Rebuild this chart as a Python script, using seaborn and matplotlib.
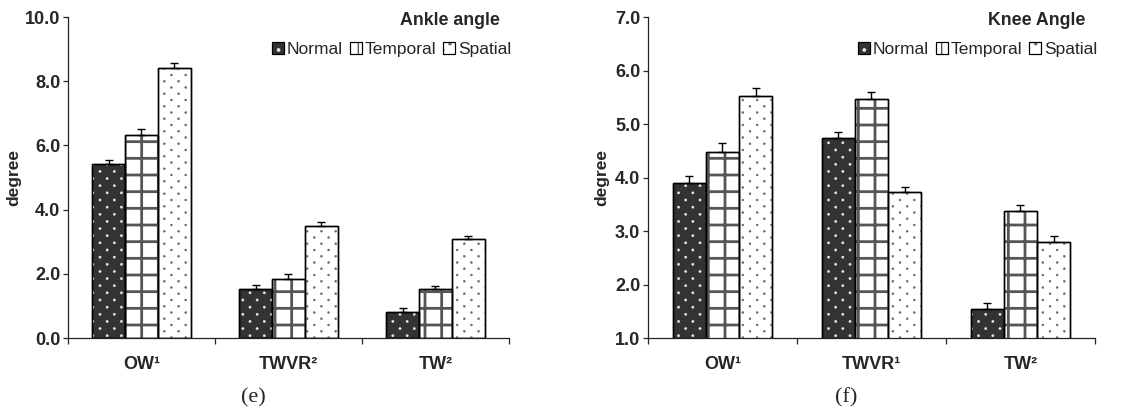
import matplotlib
matplotlib.use("Agg")
import matplotlib.pyplot as plt
import matplotlib.hatch as mhatch
from matplotlib.path import Path
from matplotlib.patches import Rectangle, Patch
from matplotlib.legend_handler import HandlerTuple
import numpy as np
import pandas as pd
import seaborn as sns

# ---- data -------------------------------------------------------------
conditions = ["Normal", "Temporal", "Spatial"]

ankle_categories = ["OW¹", "TWVR²", "TW²"]
ankle_normal = [5.41, 1.54, 0.81]
ankle_temporal = [6.33, 1.85, 1.52]
ankle_spatial = [8.42, 3.48, 3.07]
ankle_normal_err = [0.14, 0.12, 0.11]
ankle_temporal_err = [0.18, 0.14, 0.11]
ankle_spatial_err = [0.16, 0.12, 0.11]

knee_categories = ["OW¹", "TWVR¹", "TW²"]
knee_normal = [3.89, 4.73, 1.55]
knee_temporal = [4.47, 5.46, 3.37]
knee_spatial = [5.52, 3.72, 2.80]
knee_normal_err = [0.14, 0.13, 0.11]
knee_temporal_err = [0.18, 0.13, 0.12]
knee_spatial_err = [0.16, 0.10, 0.11]

ankle_yticks = [0.0, 2.0, 4.0, 6.0, 8.0, 10.0]
knee_yticks = [1.0, 2.0, 3.0, 4.0, 5.0, 6.0, 7.0]


# ---- dotted fill textures ---------------------------------------------
class DotLattice(mhatch.HatchPatternBase):
    """Staggered dot lattice: '.' is a sparse screen, '..' a finer one."""

    layouts = {1: (14, 7, 0.0115), 2: (16, 7, 0.0100)}

    def __init__(self, hatch, density):
        n = hatch.count(".")
        self.centers = []
        if n in self.layouts:
            rows, cols, self.radius = self.layouts[n]
            for k in range(rows + 1):
                y = k / rows
                if k % 2 == 0:
                    xs = [j / cols for j in range(cols + 1)]
                else:
                    xs = [(j + 0.5) / cols for j in range(cols)]
                self.centers.extend((x, y) for x in xs)
        circle = Path.unit_circle()
        self.shape_vertices = circle.vertices
        self.shape_codes = circle.codes
        self.num_vertices = len(self.centers) * len(self.shape_vertices)

    def set_vertices_and_codes(self, vertices, codes):
        m = len(self.shape_vertices)
        for i, (x, y) in enumerate(self.centers):
            vertices[i * m:(i + 1) * m] = self.shape_vertices * self.radius + [x, y]
            codes[i * m:(i + 1) * m] = self.shape_codes


mhatch._hatch_types = [DotLattice if t is mhatch.SmallFilledCircles else t
                       for t in mhatch._hatch_types]

# ---- style ------------------------------------------------------------
sns.set_theme(style="ticks")
plt.rcParams["font.family"] = ["Liberation Sans", "DejaVu Sans"]
plt.rcParams["axes.linewidth"] = 0.9
plt.rcParams["axes.edgecolor"] = "#222222"

fill_colors = {"Normal": "#333333", "Temporal": "#ffffff", "Spatial": "#ffffff"}
hatch_styles = {
    "Normal": (".", "#e8e8e8", 0.3),
    "Temporal": ("+", "#555555", 2.0),
    "Spatial": ("..", "#666666", 0.3),
}

TICK_FS = 13
LABEL_FS = 12.5
LEGEND_FS = 12.5
TITLE_FS = 12.8


def long_frame(categories, series, errors):
    rows = []
    for cond, vals, errs in zip(conditions, series, errors):
        for cat, v, e in zip(categories, vals, errs):
            rows.append({"Category": cat, "Condition": cond, "value": v, "err": e})
    return pd.DataFrame(rows)


def make_hatch(xy, w, h, cond, zorder=None):
    pattern, color, lw = hatch_styles[cond]
    with plt.rc_context({"hatch.linewidth": lw}):
        r = Rectangle(xy, w, h, facecolor="none", edgecolor=color, linewidth=0,
                      hatch=pattern)
        if hasattr(r, "set_hatch_linewidth"):
            r.set_hatch_linewidth(lw)
    if zorder is not None:
        r.set_zorder(zorder)
    return r


def hatch_overlay(ax, bar, cond):
    z = bar.get_zorder()
    ax.add_patch(make_hatch(bar.get_xy(), bar.get_width(), bar.get_height(),
                            cond, z + 0.1))
    # outline on top of the hatch
    ax.add_patch(Rectangle(bar.get_xy(), bar.get_width(), bar.get_height(),
                           facecolor="none", edgecolor="black", linewidth=1.0,
                           zorder=z + 0.2))


def legend_handles():
    handles = []
    for cond in conditions:
        base = Patch(facecolor=fill_colors[cond], edgecolor="black", linewidth=0.8)
        pattern, color, lw = hatch_styles[cond]
        with plt.rc_context({"hatch.linewidth": lw}):
            h = Patch(facecolor="none", edgecolor=color, linewidth=0, hatch=pattern)
            if hasattr(h, "set_hatch_linewidth"):
                h.set_hatch_linewidth(lw)
        edge = Patch(facecolor="none", edgecolor="black", linewidth=0.8)
        handles.append((base, h, edge))
    return handles


def panel(ax, df, categories, yticks, title, ylabel_x, title_x):
    sns.barplot(data=df, x="Category", y="value", hue="Condition",
                order=categories, hue_order=conditions,
                palette=fill_colors, edgecolor="black", linewidth=1.0,
                width=0.67, errorbar=None, legend=False, ax=ax, zorder=2)
    for cond, container in zip(conditions, ax.containers):
        errs = df[df["Condition"] == cond].set_index("Category").loc[categories, "err"].values
        xs, ys = [], []
        for bar in container:
            hatch_overlay(ax, bar, cond)
            xs.append(bar.get_x() + bar.get_width() / 2)
            ys.append(bar.get_height())
        ax.errorbar(xs, ys, yerr=[np.zeros(len(errs)), errs], fmt="none",
                    ecolor="black", elinewidth=1.0, capsize=3.2, capthick=1.0,
                    zorder=3)

    ax.set_ylim(yticks[0], yticks[-1])
    ax.set_yticks(yticks)
    ax.set_yticklabels([f"{t:.1f}" for t in yticks], fontsize=TICK_FS,
                       fontweight="bold")
    ax.tick_params(axis="y", direction="out", length=3.5, width=0.9, pad=2)

    ax.set_xlim(-0.5, len(categories) - 0.5)
    ax.set_xticks(np.arange(len(categories) + 1) - 0.5)
    ax.set_xticklabels([])
    ax.tick_params(axis="x", which="major", direction="out", length=4, width=0.9)
    ax.set_xticks(np.arange(len(categories)), minor=True)
    ax.set_xticklabels(categories, minor=True, fontsize=TICK_FS, fontweight="bold")
    ax.tick_params(axis="x", which="minor", length=0, pad=13)
    ax.set_xlabel("")

    ax.set_ylabel("degree", fontsize=LABEL_FS, fontweight="bold")
    ax.yaxis.set_label_coords(ylabel_x, 0.5)
    sns.despine(ax=ax)

    ax.text(title_x, 0.99, title, transform=ax.transAxes, ha="right",
            va="center", fontsize=TITLE_FS, fontweight="bold")
    ax.legend(legend_handles(), conditions,
              handler_map={tuple: HandlerTuple(ndivide=1, pad=0)},
              loc="center right", bbox_to_anchor=(1.005, 0.90), ncol=3,
              frameon=False, fontsize=LEGEND_FS, handlelength=0.7,
              handleheight=0.7, handletextpad=0.15, columnspacing=0.4,
              borderpad=0, borderaxespad=0)


fig = plt.figure(figsize=(11.46, 4.15), dpi=100)
ax_e = fig.add_axes([0.0593, 0.1855, 0.3848, 0.7735])
ax_f = fig.add_axes([0.5654, 0.1855, 0.3901, 0.7735])

df_ankle = long_frame(ankle_categories,
                      [ankle_normal, ankle_temporal, ankle_spatial],
                      [ankle_normal_err, ankle_temporal_err, ankle_spatial_err])
df_knee = long_frame(knee_categories,
                     [knee_normal, knee_temporal, knee_spatial],
                     [knee_normal_err, knee_temporal_err, knee_spatial_err])

panel(ax_e, df_ankle, ankle_categories, ankle_yticks, "Ankle angle", -0.107, 0.98)
panel(ax_f, df_knee, knee_categories, knee_yticks, "Knee Angle", -0.087, 0.978)

caption_font = ["Liberation Serif", "DejaVu Serif"]
fig.text(253 / 1146, 1 - 398 / 415, "(e)", ha="center", va="center",
         fontsize=16, family=caption_font)
fig.text(846 / 1146, 1 - 398 / 415, "(f)", ha="center", va="center",
         fontsize=16, family=caption_font)

fig.savefig("out.png", dpi=100)
